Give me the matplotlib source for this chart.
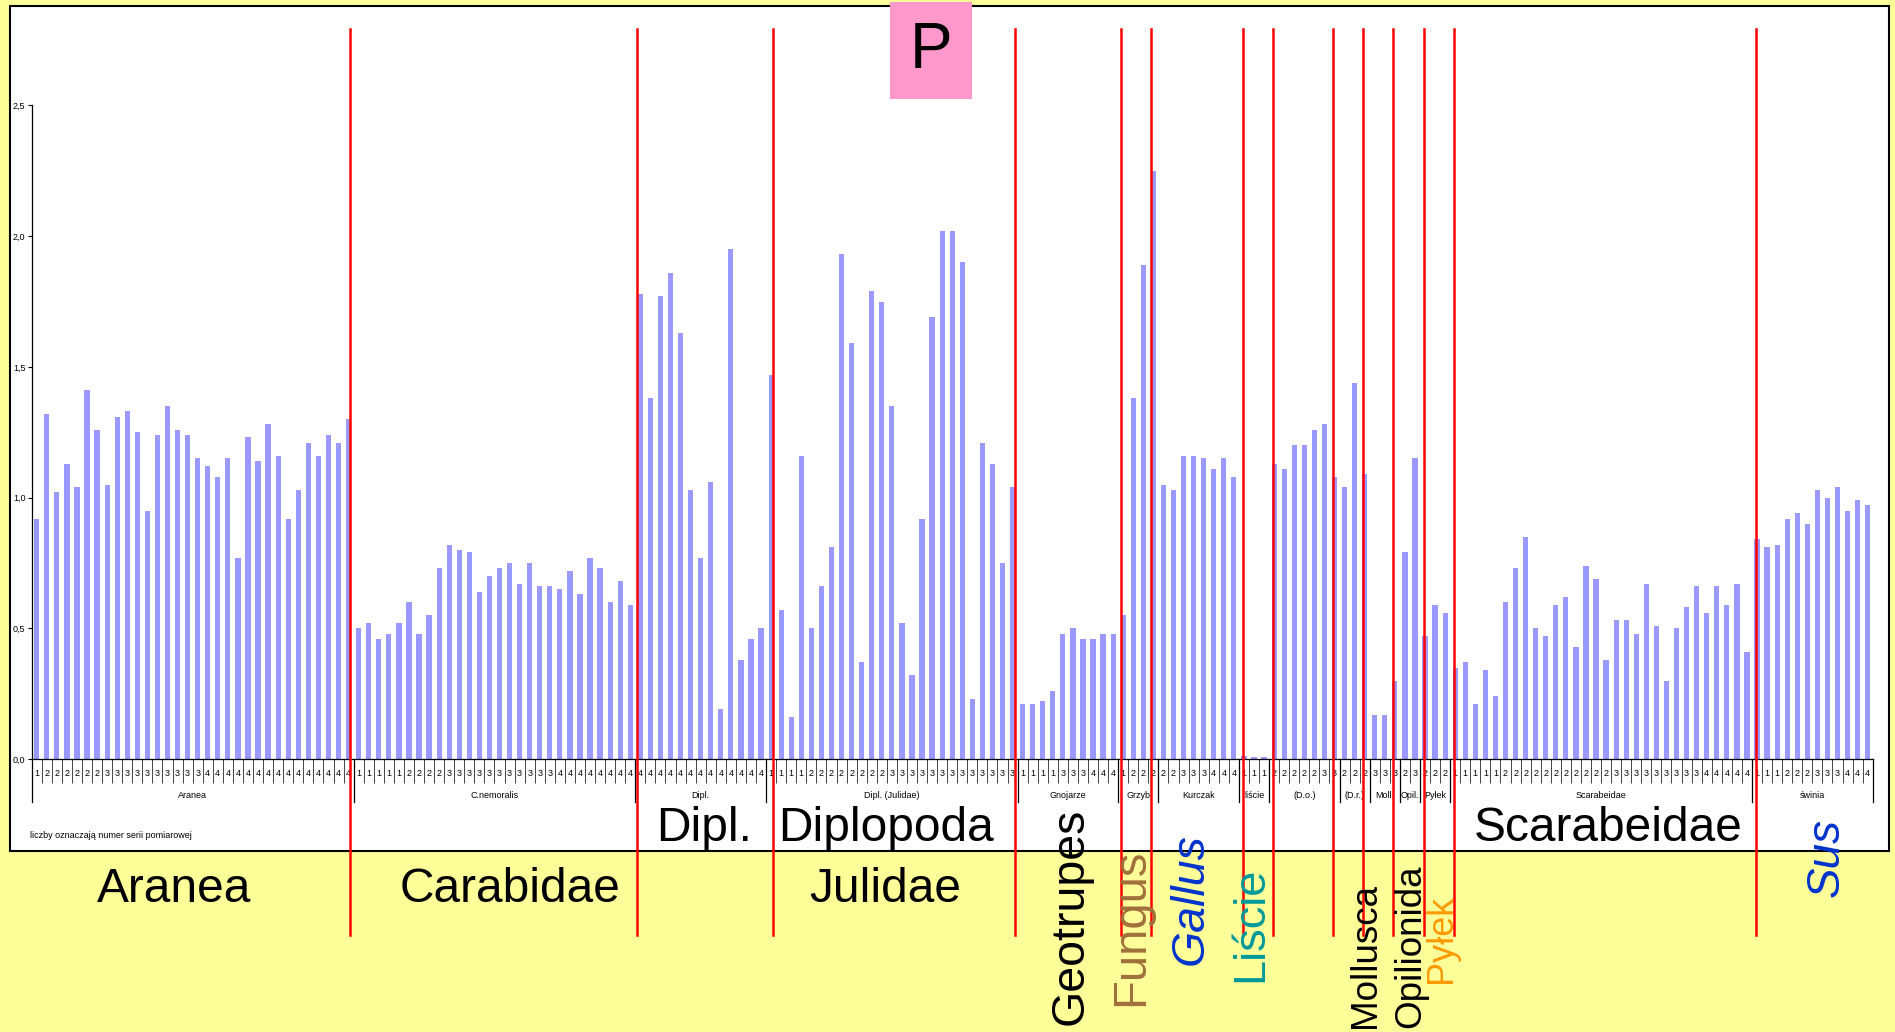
import numpy as np
import matplotlib
matplotlib.use('Agg')
import matplotlib.pyplot as plt
import matplotlib.transforms as mtransforms
from matplotlib.patches import Rectangle

plt.rcParams['font.family'] = ['Liberation Sans', 'DejaVu Sans']

W, H = 1895, 1032

# small group names under the axis
groups = ['Aranea', 'C.nemoralis', 'Dipl.', 'Dipl. (Julidae)', 'Gnojarze', 'Grzyb',
          'Kurczak', 'liście', '(D.o.)', '(D.r.)', 'Moll.', 'Opil.', 'Pyłek',
          'Scarabeidae', 'świnia']

# series number of each bar (one string per group)
series = ['12222223333333333444444444444444',
          '1111122223333333333344444444',
          '4444444444444',
          '1111222222223333333333333',
          '1111333444',
          '1222',
          '22333444',
          '111',
          '2222233',
          '222',
          '333',
          '23',
          '222',
          '111112222222222233333333344444',
          '111222333444']

aranea = [0.92, 1.32, 1.02, 1.13, 1.04, 1.41, 1.26, 1.05, 1.31, 1.33, 1.25, 0.95, 1.24, 1.35,
          1.26, 1.24, 1.15, 1.12, 1.08, 1.15, 0.77, 1.23, 1.14, 1.28, 1.16, 0.92, 1.03, 1.21,
          1.16, 1.24, 1.21, 1.30]
c_nemoralis = [0.50, 0.52, 0.46, 0.48, 0.52, 0.60, 0.48, 0.55, 0.73, 0.82, 0.80, 0.79, 0.64,
               0.70, 0.73, 0.75, 0.67, 0.75, 0.66, 0.66, 0.65, 0.72, 0.63, 0.77, 0.73, 0.60,
               0.68, 0.59]
dipl = [1.78, 1.38, 1.77, 1.86, 1.63, 1.03, 0.77, 1.06, 0.19, 1.95, 0.38, 0.46, 0.50]
julidae = [1.47, 0.57, 0.16, 1.16, 0.50, 0.66, 0.81, 1.93, 1.59, 0.37, 1.79, 1.75, 1.35, 0.52,
           0.32, 0.92, 1.69, 2.02, 2.02, 1.90, 0.23, 1.21, 1.13, 0.75, 1.04]
gnojarze = [0.21, 0.21, 0.22, 0.26, 0.48, 0.50, 0.46, 0.46, 0.48, 0.48]
grzyb = [0.55, 1.38, 1.89, 2.25]
kurczak = [1.05, 1.03, 1.16, 1.16, 1.15, 1.11, 1.15, 1.08]
liscie = [0.01, 0.007, 0.007]
d_o = [1.13, 1.11, 1.20, 1.20, 1.26, 1.28, 1.08]
d_r = [1.04, 1.44, 1.09]
moll = [0.17, 0.17, 0.30]
opil = [0.79, 1.15]
pylek = [0.47, 0.59, 0.56]
scarabeidae = [0.35, 0.37, 0.21, 0.34, 0.24, 0.60, 0.73, 0.85, 0.50, 0.47, 0.59, 0.62, 0.43,
               0.74, 0.69, 0.38, 0.53, 0.53, 0.48, 0.67, 0.51, 0.30, 0.50, 0.58, 0.66, 0.56,
               0.66, 0.59, 0.67, 0.41]
swinia = [0.84, 0.81, 0.82, 0.92, 0.94, 0.90, 1.03, 1.00, 1.04, 0.95, 0.99, 0.97]

group_values = [aranea, c_nemoralis, dipl, julidae, gnojarze, grzyb, kurczak, liscie, d_o, d_r,
                moll, opil, pylek, scarabeidae, swinia]

# red dividers, in bar-index units
dividers = [31.16, 59.69, 73.22, 97.29, 107.78, 110.76, 119.87, 122.87, 128.84, 131.84,
            134.85, 137.85, 140.86, 170.93]

values = [v for g in group_values for v in g]
labels = list(''.join(series))
n = len(values)
x = np.arange(n)


def fx(px):
    return px / W


def fy(py):
    return 1 - py / H


fig = plt.figure(figsize=(W / 100, H / 100), dpi=100)
fig.patch.set_facecolor('#FFFF99')

# white panel
fig.add_artist(Rectangle((fx(10), fy(851)), (1889 - 10) / W, (851 - 6) / H,
                         transform=fig.transFigure, facecolor='white',
                         edgecolor='black', lw=1.5, zorder=0))

ax_l, ax_r, ax_b, ax_t = 31.7, 1872.7, 759, 105.5
ax = fig.add_axes([fx(ax_l), fy(ax_b), (ax_r - ax_l) / W, (ax_b - ax_t) / H])
ax.patch.set_visible(False)

ax.bar(x, values, width=0.52, color='#9999FF', zorder=2)
ax.set_xlim(-0.5, n - 0.5)
ax.set_ylim(0, 2.5)

for s in ['top', 'right']:
    ax.spines[s].set_visible(False)
ax.spines['left'].set_linewidth(0.9)
ax.spines['bottom'].set_linewidth(0.9)

yt = [0, 0.5, 1.0, 1.5, 2.0, 2.5]
ax.set_yticks(yt)
ax.set_yticklabels([f'{v:.1f}'.replace('.', ',') for v in yt], fontsize=6.5)
ax.tick_params(axis='y', length=3, width=0.8, pad=1.5)

ax.set_xticks(x)
ax.set_xticklabels(labels, fontsize=6.5)
ax.tick_params(axis='x', which='major', length=0, pad=7)
ax.set_xticks(np.arange(n + 1) - 0.5, minor=True)
ax.tick_params(axis='x', which='minor', length=17, width=0.7, color='#444444')

trans = mtransforms.blended_transform_factory(ax.transData, ax.transAxes)
hpx = ax_b - ax_t

# group separators and small group names
sizes = [len(g) for g in group_values]
bounds = np.concatenate([[0], np.cumsum(sizes)]) - 0.5
for b in bounds:
    ax.plot([b, b], [0, (ax_b - 802) / hpx], transform=trans, color='black',
            lw=0.9, clip_on=False)
for name, a, b in zip(groups, bounds[:-1], bounds[1:]):
    ax.text((a + b) / 2, (ax_b - 795) / hpx, name, transform=trans, ha='center',
            va='center', fontsize=6.5)

# red dividers
for d in dividers:
    ax.plot([d, d], [(ax_b - 29) / hpx, (ax_b - 935) / hpx], transform=trans,
            color='red', lw=1.8, clip_on=False, zorder=10)

fig.text(fx(30), fy(835), 'liczby oznaczają numer serii pomiarowej', fontsize=6.5,
         ha='left', va='center')

# big labels
big = 34.5
fig.text(fx(174), fy(902), 'Aranea', fontsize=big, ha='center', va='baseline')
fig.text(fx(510), fy(902), 'Carabidae', fontsize=big, ha='center', va='baseline')
fig.text(fx(885), fy(902), 'Julidae', fontsize=big, ha='center', va='baseline')
fig.text(fx(704), fy(841), 'Dipl.', fontsize=big, ha='center', va='baseline')
fig.text(fx(886), fy(841), 'Diplopoda', fontsize=big, ha='center', va='baseline')
fig.text(fx(1608), fy(841), 'Scarabeidae', fontsize=big, ha='center', va='baseline')

rot = [('Geotrupes', 1071, 916, 'black', 'normal', 33.5),
       ('Fungus', 1131, 927, '#A0703A', 'normal', 34),
       ('Gallus', 1191, 899, '#0033CC', 'italic', 33.5),
       ('Liście', 1251, 924, '#009999', 'normal', 32.5),
       ('Mollusca', 1366, 955, 'black', 'normal', 26.5),
       ('Opilionida', 1411, 946, 'black', 'normal', 26.5),
       ('Pyłek', 1441, 939, '#FF9900', 'normal', 26),
       ('Sus', 1827, 857, '#0033CC', 'italic', 33)]
for t, px, py, c, st, fs in rot:
    fig.text(fx(px), fy(py), t, fontsize=fs, color=c, style=st, rotation=90,
             ha='center', va='center', zorder=5)

# "P" panel tag
fig.add_artist(Rectangle((fx(890), fy(99)), (972 - 890) / W, (99 - 2) / H,
                         transform=fig.transFigure, facecolor='#FF99CC',
                         edgecolor='none', zorder=3))
fig.text(fx(931), fy(51), 'P', fontsize=46, ha='center', va='center', zorder=4)

fig.savefig('out.png', dpi=100, facecolor=fig.get_facecolor())
